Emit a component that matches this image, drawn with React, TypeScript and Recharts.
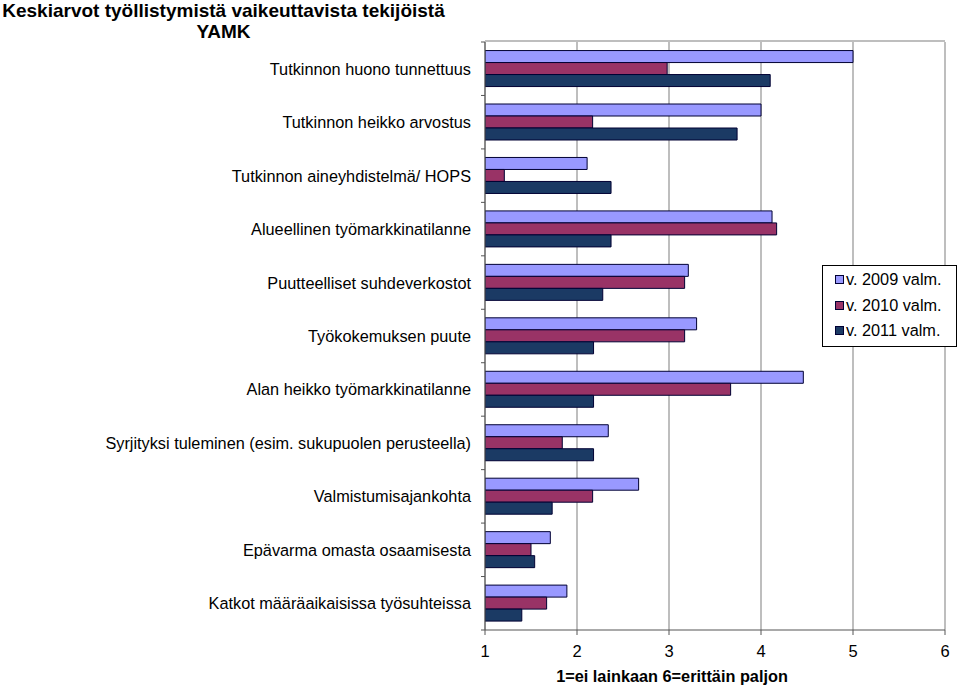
import React from 'react'
import { BarChart, Bar, XAxis, YAxis, CartesianGrid } from 'recharts'

const categories = [
  'Tutkinnon huono tunnettuus',
  'Tutkinnon heikko arvostus',
  'Tutkinnon aineyhdistelmä/ HOPS',
  'Alueellinen työmarkkinatilanne',
  'Puutteelliset suhdeverkostot',
  'Työkokemuksen puute',
  'Alan heikko työmarkkinatilanne',
  'Syrjityksi tuleminen (esim. sukupuolen perusteella)',
  'Valmistumisajankohta',
  'Epävarma omasta osaamisesta',
  'Katkot määräaikaisissa työsuhteissa',
]

const v2009 = [5.0, 4.0, 2.11, 4.12, 3.21, 3.3, 4.46, 2.34, 2.67, 1.71, 1.89]
const v2010 = [2.98, 2.17, 1.21, 4.17, 3.17, 3.17, 3.67, 1.84, 2.17, 1.5, 1.67]
const v2011 = [4.1, 3.74, 2.37, 2.37, 2.28, 2.18, 2.18, 2.18, 1.73, 1.54, 1.4]

const xTicks = [1, 2, 3, 4, 5, 6]

const series = [
  { key: 'y2009', name: 'v. 2009 valm.', color: '#9999FF' },
  { key: 'y2010', name: 'v. 2010 valm.', color: '#993366' },
  { key: 'y2011', name: 'v. 2011 valm.', color: '#1B3A64' },
]

const data = categories.map((name, i) => ({
  name,
  y2009: v2009[i],
  y2010: v2010[i],
  y2011: v2011[i],
}))

const WIDTH = 960
const HEIGHT = 687
const TOP = 42
const BOTTOM_AXIS = 57
const PLOT_H = HEIGHT - TOP - BOTTOM_AXIS
const BAND = PLOT_H / categories.length
const FONT = '"Liberation Sans", Arial, Helvetica, sans-serif'
const FS = 16.3

function CategoryTick(props: any) {
  const { x, y, payload, index } = props
  const top = y - BAND / 2
  return (
    <g>
      <line x1={x + 4} x2={x + 8} y1={top} y2={top} stroke="#555" />
      {index === categories.length - 1 && (
        <line x1={x + 4} x2={x + 8} y1={top + BAND} y2={top + BAND} stroke="#555" />
      )}
      <text x={x - 6} y={y} dy={6} textAnchor="end" fontSize={FS} fill="#000" fontFamily={FONT}>
        {payload.value}
      </text>
    </g>
  )
}

function LegendBox() {
  return (
    <div
      style={{
        position: 'absolute',
        left: 822,
        top: 265,
        width: 135,
        height: 82,
        boxSizing: 'border-box',
        border: '1px solid #000',
        background: '#fff',
        padding: '1px 0 0 12px',
        fontFamily: FONT,
        fontSize: FS,
        lineHeight: '25.5px',
      }}
    >
      {series.map((s) => (
        <div key={s.key} style={{ display: 'flex', alignItems: 'center', whiteSpace: 'nowrap' }}>
          <span
            style={{
              display: 'inline-block',
              width: 7,
              height: 7,
              background: s.color,
              border: '1px solid #000033',
              marginRight: 2,
            }}
          />
          {s.name}
        </div>
      ))}
    </div>
  )
}

export default function App() {
  return (
    <div style={{ position: 'absolute', left: 0, top: 0, width: WIDTH, height: HEIGHT, background: '#fff', fontFamily: FONT }}>
      <BarChart
        width={WIDTH}
        height={HEIGHT}
        data={data}
        layout="vertical"
        margin={{ top: TOP, right: 15, bottom: 0, left: 0 }}
        barCategoryGap="16%"
        barGap={0}
      >
        <CartesianGrid horizontal={false} vertical stroke="#A8A8A8" strokeWidth={1.5} />
        <CartesianGrid vertical={false} horizontalPoints={[TOP - 1]} stroke="#A8A8A8" strokeWidth={1.5} />
        <XAxis
          type="number"
          domain={[1, 6]}
          ticks={xTicks}
          allowDataOverflow
          height={BOTTOM_AXIS}
          tick={{ fill: '#000', fontSize: 16.5, fontFamily: FONT, dy: 8 }}
          tickLine={{ stroke: '#555' }}
          tickSize={5}
          axisLine={{ stroke: '#555' }}
          label={{
            value: '1=ei lainkaan 6=erittäin paljon',
            position: 'insideBottom',
            offset: 5,
            dx: -43,
            fill: '#000',
            fontSize: FS,
            fontWeight: 'bold',
            fontFamily: FONT,
          }}
        />
        <YAxis
          type="category"
          dataKey="name"
          width={485}
          interval={0}
          tickLine={false}
          axisLine={{ stroke: '#555' }}
          tick={<CategoryTick />}
        />
        {series.map((s) => (
          <Bar
            key={s.key}
            dataKey={s.key}
            name={s.name}
            fill={s.color}
            stroke="#000033"
            strokeWidth={1}
            isAnimationActive={false}
          />
        ))}
      </BarChart>
      <div style={{ position: 'absolute', left: 2, top: 0, width: 443, fontSize: 19, fontWeight: 'bold', lineHeight: '21px', textAlign: 'center' }}>
        <div>Keskiarvot työllistymistä vaikeuttavista tekijöistä</div>
        <div>YAMK</div>
      </div>
      <LegendBox />
    </div>
  )
}
